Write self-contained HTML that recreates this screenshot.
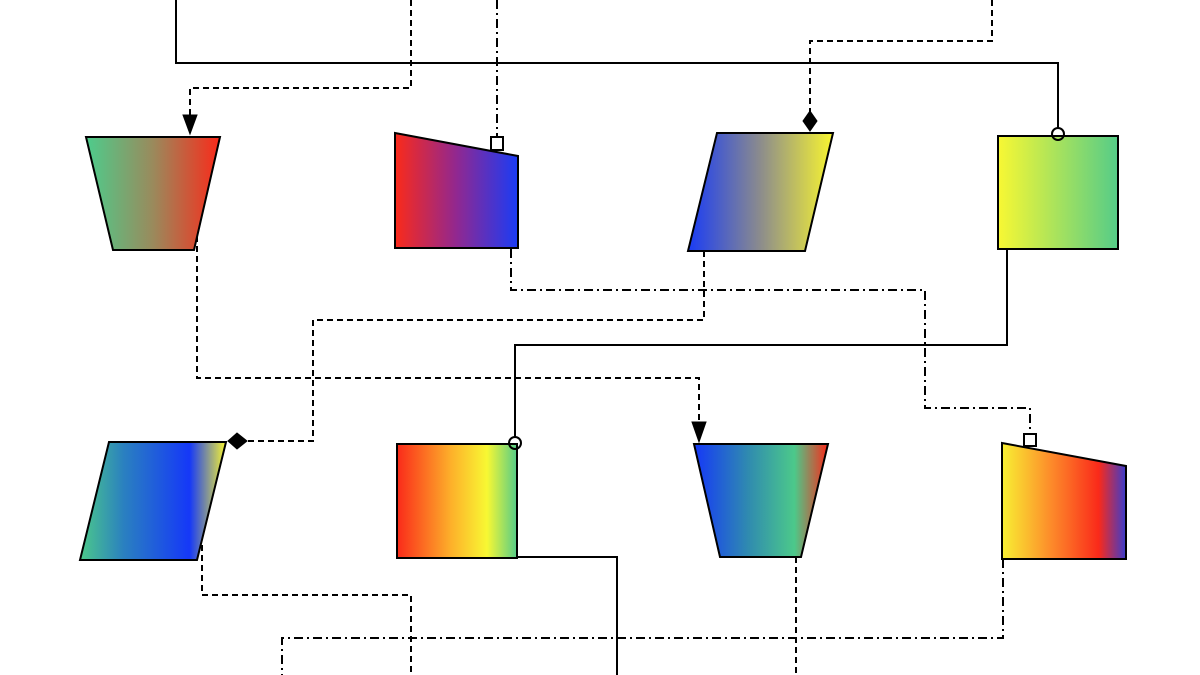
<!DOCTYPE html>
<html><head><meta charset="utf-8"><style>html,body{margin:0;padding:0;background:#fff}svg{display:block}</style></head>
<body>
<svg width="1200" height="675" viewBox="0 0 1200 675" xmlns="http://www.w3.org/2000/svg">
<defs>
<linearGradient id="g1" x1="0" x2="1" y1="0" y2="0"><stop offset="0" stop-color="#4dcc8c"/><stop offset="0.5" stop-color="#9a8a5c"/><stop offset="1" stop-color="#fa2a1a"/></linearGradient>
<linearGradient id="g2" x1="0" x2="1"><stop offset="0" stop-color="#fa2a1a"/><stop offset="0.5" stop-color="#912890"/><stop offset="1" stop-color="#1a3cf5"/></linearGradient>
<linearGradient id="g3" x1="0" x2="1"><stop offset="0" stop-color="#1a3cf5"/><stop offset="0.5" stop-color="#8c8c8c"/><stop offset="1" stop-color="#f8f530"/></linearGradient>
<linearGradient id="g4" x1="0" x2="1"><stop offset="0" stop-color="#f8f833"/><stop offset="1" stop-color="#55cc88"/></linearGradient>
<linearGradient id="g5" x1="0" x2="1"><stop offset="0" stop-color="#4cc98a"/><stop offset="0.3" stop-color="#2a80c0"/><stop offset="0.75" stop-color="#1538f8"/><stop offset="1" stop-color="#f8f530"/></linearGradient>
<linearGradient id="g6" x1="0" x2="1"><stop offset="0" stop-color="#fa2a1a"/><stop offset="0.45" stop-color="#fdb02a"/><stop offset="0.75" stop-color="#f8f833"/><stop offset="1" stop-color="#55cc88"/></linearGradient>
<linearGradient id="g7" x1="0" x2="1"><stop offset="0" stop-color="#1538f8"/><stop offset="0.4" stop-color="#2f8ab0"/><stop offset="0.75" stop-color="#4cc98a"/><stop offset="1" stop-color="#fa2a1a"/></linearGradient>
<linearGradient id="g8" x1="0" x2="1"><stop offset="0" stop-color="#f8f033"/><stop offset="0.4" stop-color="#fd8a2a"/><stop offset="0.78" stop-color="#fa2a1a"/><stop offset="1" stop-color="#3a3ccc"/></linearGradient>
</defs>
<g fill="none" stroke="#000" stroke-width="2">
<polyline points="176,0 176,63 1058,63 1058,128"/>
<polyline points="1007,249 1007,345 515,345 515,437"/>
<polyline points="517,557 617,557 617,675"/>
</g>
<g fill="none" stroke="#000" stroke-width="2" stroke-dasharray="6,4">
<polyline points="411,0 411,88 190,88 190,116"/>
<polyline points="992,0 992,41 810,41 810,112"/>
<polyline points="197,236 197,378 699,378 699,422"/>
<polyline points="704,251 704,320 313,320 313,441 247,441"/>
<polyline points="202,545 202,595 411,595 411,675"/>
<polyline points="796,557 796,675"/>
</g>
<g fill="none" stroke="#000" stroke-width="2" stroke-dasharray="9,4,2,4">
<polyline points="497,0 497,137"/>
<polyline points="511,249 511,290 925,290 925,408 1030,408 1030,433"/>
<polyline points="1003,559 1003,638 282,638 282,675"/>
</g>
<g stroke="#000" stroke-width="2" stroke-linejoin="miter">
<polygon points="86,137 220,137 194,250 113,250" fill="url(#g1)"/>
<polygon points="395,133 518,156 518,248 395,248" fill="url(#g2)"/>
<polygon points="717,133 833,133 805,251 688,251" fill="url(#g3)"/>
<rect x="998" y="136" width="120" height="113" fill="url(#g4)"/>
<polygon points="109,442 226,442 197,560 80,560" fill="url(#g5)"/>
<rect x="397" y="444" width="120" height="114" fill="url(#g6)"/>
<polygon points="694,444 828,444 801,557 720,557" fill="url(#g7)"/>
<polygon points="1002,443 1126,466 1126,559 1002,559" fill="url(#g8)"/>
</g>
<g stroke="#000" stroke-width="2">
<polygon points="183,115 197,115 190,134" fill="#000" stroke-width="1"/>
<polygon points="692,422 706,422 699,442" fill="#000" stroke-width="1"/>
<polygon points="810,111 817,121 810,131 803,121" fill="#000" stroke-width="1"/>
<polygon points="228,441 237,433 247,441 237,449" fill="#000" stroke-width="1"/>
<rect x="491" y="137" width="12" height="13" fill="#fff"/>
<rect x="1024" y="434" width="12" height="12" fill="#fff"/>
<circle cx="1058" cy="134" r="6" fill="none"/>
<circle cx="515" cy="443" r="6" fill="none"/>
</g>
</svg>
</body></html>
